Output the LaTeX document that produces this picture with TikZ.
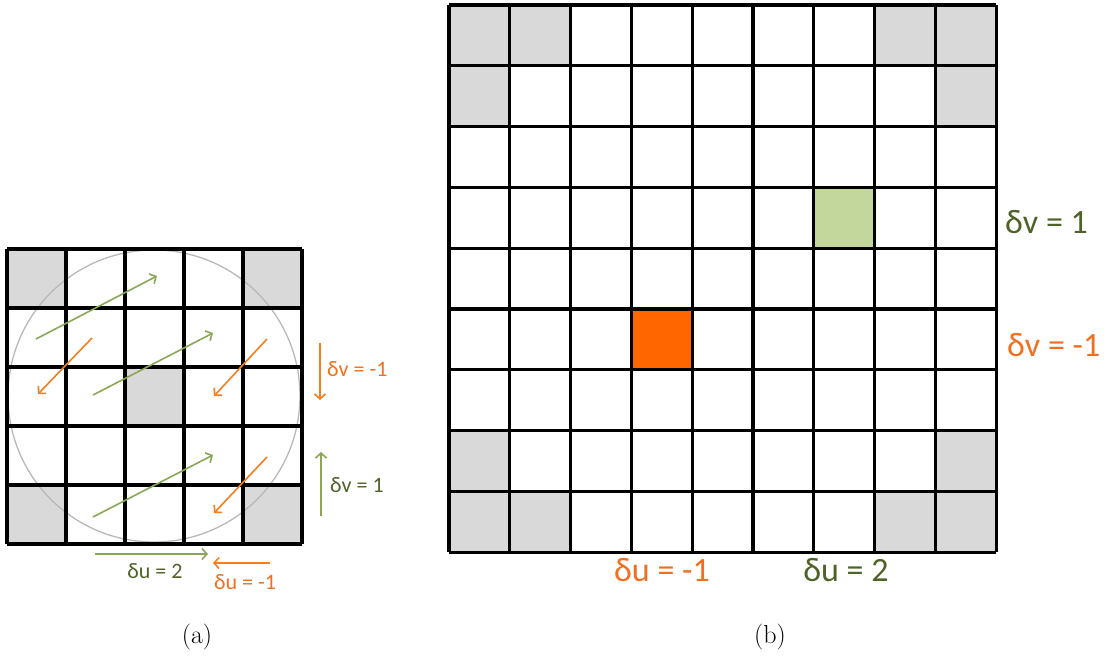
\documentclass[tikz,border=0pt]{standalone}
\usepackage{fontspec}
\newfontfamily\carlitofont{Carlito}
\usetikzlibrary{arrows.meta}
\definecolor{cellgray}{HTML}{D9D9D9}
\definecolor{arrgreen}{HTML}{8BA656}
\definecolor{labgreen}{HTML}{4F6228}
\definecolor{arrorange}{HTML}{F57F20}
\definecolor{laborange}{HTML}{F07020}
\definecolor{cellorange}{HTML}{FF6600}
\definecolor{cellgreen}{HTML}{C3D69B}
\tikzset{
  gridline/.style={line width=3.2pt,black},
  garrow/.style={arrgreen,line width=1.6pt,-{Straight Barb[length=5pt,width=11pt,line width=1.6pt]}},
  oarrow/.style={arrorange,line width=1.6pt,-{Straight Barb[length=5pt,width=11pt,line width=1.6pt]}},
  glab/.style={text=labgreen,font=\carlitofont\fontsize{22}{24}\selectfont,inner sep=0pt},
  olab/.style={text=laborange,font=\carlitofont\fontsize{22}{24}\selectfont,inner sep=0pt},
  bglab/.style={text=labgreen,font=\carlitofont\fontsize{34}{38}\selectfont,inner sep=0pt},
  bolab/.style={text=laborange,font=\carlitofont\fontsize{34}{38}\selectfont,inner sep=0pt},
  caption/.style={font=\fontsize{26}{30}\selectfont,inner sep=0pt}
}
\begin{document}
\begin{tikzpicture}[x=1pt,y=-1pt]
\useasboundingbox (0,0) rectangle (1112,657);
% ---------- (a) ----------
\def\ax{7}\def\ay{249}\def\ac{59}
\foreach \c/\r in {0/0,4/0,0/4,4/4,2/2}
  \fill[cellgray] ({\ax+\c*\ac},{\ay+\r*\ac}) rectangle ++(\ac,\ac);
\draw[cellgray!85!black,line width=1.3pt] (154,396) circle[radius=146];
\foreach \i in {0,...,5}{
  \draw[gridline] ({\ax+\i*\ac},\ay) -- ({\ax+\i*\ac},{\ay+5*\ac});
  \draw[gridline] (\ax,{\ay+\i*\ac}) -- ({\ax+5*\ac},{\ay+\i*\ac});
}
\coordinate (g1s) at (36,339); \coordinate (g1e) at (157,276);
\coordinate (g2s) at (93,395); \coordinate (g2e) at (213,333);
\coordinate (g3s) at (93,517); \coordinate (g3e) at (213,455);
\coordinate (o1s) at (92,338); \coordinate (o1e) at (38,394);
\coordinate (o2s) at (267,339); \coordinate (o2e) at (214,396);
\coordinate (o3s) at (267,457); \coordinate (o3e) at (214,513);
\draw[garrow] (g1s) -- (g1e);
\draw[garrow] (g2s) -- (g2e);
\draw[garrow] (g3s) -- (g3e);
\draw[oarrow] (o1s) -- (o1e);
\draw[oarrow] (o2s) -- (o2e);
\draw[oarrow] (o3s) -- (o3e);
% side arrows
\coordinate (vds) at (320,343); \coordinate (vde) at (320,400);
\coordinate (vus) at (321,516); \coordinate (vue) at (321,452);
\draw[oarrow] (vds) -- (vde);
\draw[garrow] (vus) -- (vue);
\node[olab,anchor=west] (lvm) at (327,369) {δv = -1};
\node[glab,anchor=west] (lvp) at (330,485) {δv = 1};
\coordinate (uds) at (95,554); \coordinate (ude) at (208,554);
\coordinate (ums) at (270,563); \coordinate (ume) at (213,563);
\draw[garrow] (uds) -- (ude);
\draw[oarrow] (ums) -- (ume);
\node[glab] (lup) at (155,571) {δu = 2};
\node[olab] (lum) at (245,582) {δu = -1};
\node[caption] (capa) at (197,637) {(a)};
% ---------- (b) ----------
\def\bx{449}\def\by{5}\def\bc{60.8}
\foreach \c/\r in {0/0,1/0,7/0,8/0,0/1,8/1,0/7,8/7,0/8,1/8,7/8,8/8}
  \fill[cellgray] ({\bx+\c*\bc},{\by+\r*\bc}) rectangle ++(\bc,\bc);
\fill[cellgreen] ({\bx+6*\bc},{\by+3*\bc}) rectangle ++(\bc,\bc);
\fill[cellorange] ({\bx+3*\bc},{\by+5*\bc}) rectangle ++(\bc,\bc);
\foreach \i in {0,...,9}{
  \draw[gridline] ({\bx+\i*\bc},\by) -- ({\bx+\i*\bc},{\by+9*\bc});
  \draw[gridline] (\bx,{\by+\i*\bc}) -- ({\bx+9*\bc},{\by+\i*\bc});
}
\node[bglab,anchor=west] (bvp) at (1005,222) {δv = 1};
\node[bolab,anchor=west] (bvm) at (1007,345) {δv = -1};
\node[bolab] (bum) at (662,570) {δu = -1};
\node[bglab] (bup) at (846,570) {δu = 2};
\node[caption] (capb) at (770,637) {(b)};
\end{tikzpicture}
\end{document}
